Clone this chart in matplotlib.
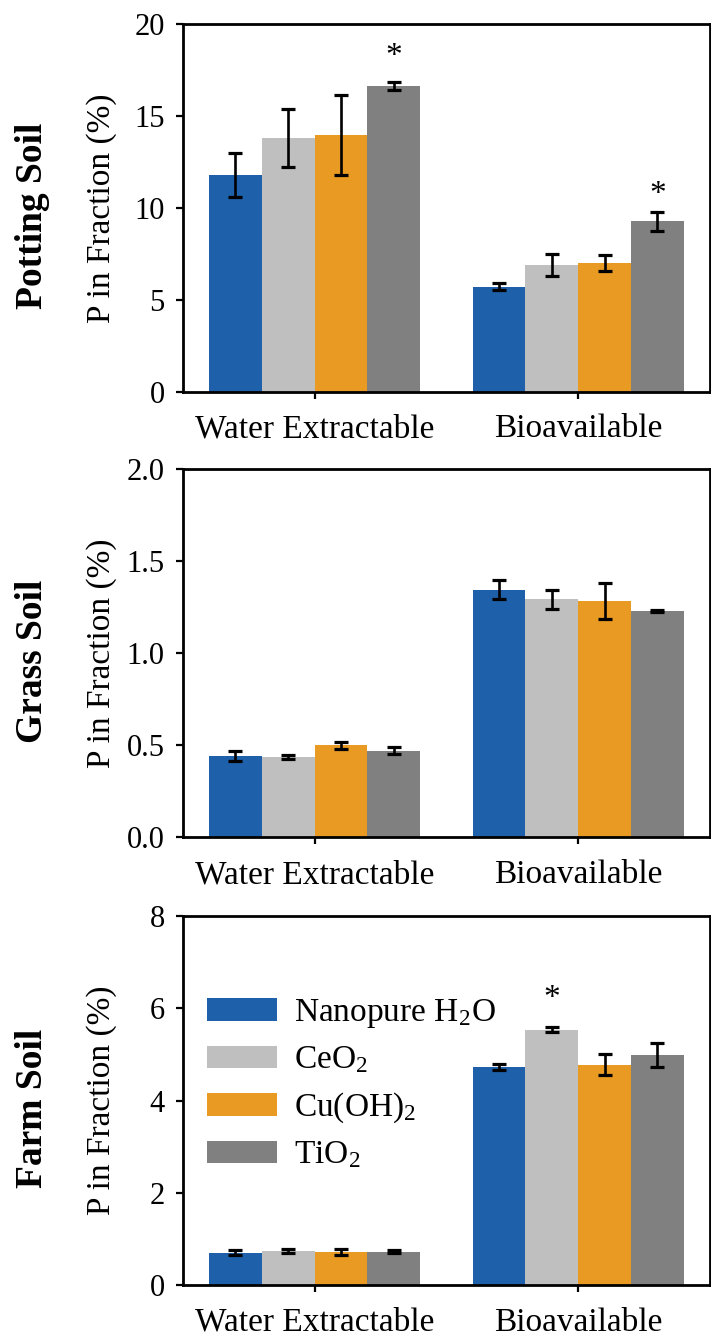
import matplotlib
matplotlib.use("Agg")
import matplotlib.pyplot as plt
import numpy as np
from matplotlib.patches import Patch

plt.rcParams['font.family'] = ['Liberation Serif', 'DejaVu Serif']
plt.rcParams['mathtext.fontset'] = 'stix'

fractions = ["Water Extractable", "Bioavailable"]
treatments = ["Nanopure H$_\\mathregular{2}$O", "CeO$_\\mathregular{2}$",
              "Cu(OH)$_\\mathregular{2}$", "TiO$_\\mathregular{2}$"]
colors = ["#1E60AA", "#BFBFBF", "#E89A23", "#808080"]

soils = ["Potting Soil", "Grass Soil", "Farm Soil"]

# values[treatment][fraction]
potting_vals = [[11.78, 5.71], [13.78, 6.89], [13.98, 6.98], [16.63, 9.28]]
potting_err = [[1.18, 0.20], [1.57, 0.58], [2.17, 0.43], [0.22, 0.52]]
grass_vals = [[0.442, 1.346], [0.438, 1.293], [0.500, 1.284], [0.471, 1.232]]
grass_err = [[0.025, 0.050], [0.012, 0.052], [0.018, 0.096], [0.018, 0.006]]
farm_vals = [[0.70, 4.73], [0.737, 5.535], [0.715, 4.776], [0.72, 4.986]]
farm_err = [[0.05, 0.06], [0.05, 0.05], [0.06, 0.23], [0.03, 0.25]]

ylims = [(0, 20), (0, 2.0), (0, 8)]
yticks = [[0, 5, 10, 15, 20], [0.0, 0.5, 1.0, 1.5, 2.0], [0, 2, 4, 6, 8]]
ytick_fmt = ["{:.0f}", "{:.1f}", "{:.0f}"]

# significance stars: (panel, fraction index, treatment index, y of star centre)
stars = [(0, 0, 3, 18.6), (0, 1, 3, 11.1), (2, 1, 1, 6.36)]

all_vals = [potting_vals, grass_vals, farm_vals]
all_err = [potting_err, grass_err, farm_err]

W, H = 711, 1342
fig = plt.figure(figsize=(W / 100, H / 100), dpi=100)

panel_px = [(24, 391.7), (469.3, 837.3), (916, 1285)]
left_px, right_px = 182.7, 710

bw = 0.2
x = np.arange(len(fractions))
axes = []
for p in range(3):
    top, bot = panel_px[p]
    ax = fig.add_axes([left_px / W, 1 - bot / H, (right_px - left_px) / W, (bot - top) / H])
    axes.append(ax)
    for t in range(4):
        off = (t - 1.5) * bw
        ax.bar(x + off, all_vals[p][t], width=bw, color=colors[t], edgecolor='none',
               yerr=all_err[p][t], capsize=4.7,
               error_kw=dict(ecolor='black', elinewidth=1.9, capthick=2.3), zorder=2)
    ax.set_xlim(-0.5, 1.5)
    ax.set_ylim(*ylims[p])
    ax.set_yticks(yticks[p])
    ax.set_yticklabels([ytick_fmt[p].format(v) for v in yticks[p]], fontsize=22)
    ax.set_xticks(x)
    ax.set_xticklabels(fractions, fontsize=24)
    ax.tick_params(axis='both', direction='out', length=5, width=1.6)
    ax.tick_params(axis='y', pad=8)
    ax.tick_params(axis='x', pad=11)
    for s in ax.spines.values():
        s.set_linewidth(2)
    cy = 1 - ((top + bot) / 2) / H
    fig.text(102 / W, cy, "P in Fraction (%)", rotation=90, ha='center', va='center', fontsize=24)
    fig.text(33 / W, cy - 8 / H, soils[p], rotation=90, ha='center', va='center',
             fontsize=27, fontweight='bold')

for (p, f, t, yv) in stars:
    axes[p].annotate("*", xy=(x[f] + (t - 1.5) * bw, yv), xytext=(0, -5),
                     textcoords='offset points', ha='center', va='center', fontsize=24)

handles = [Patch(facecolor=c, edgecolor='none') for c in colors]
axes[2].legend(handles, treatments, loc='upper left', bbox_to_anchor=(0.046, 0.78),
               frameon=False, fontsize=24, handlelength=2.1, handleheight=0.67,
               handletextpad=0.5, labelspacing=0.45, borderpad=0, borderaxespad=0)

fig.savefig("out.png", dpi=100)
